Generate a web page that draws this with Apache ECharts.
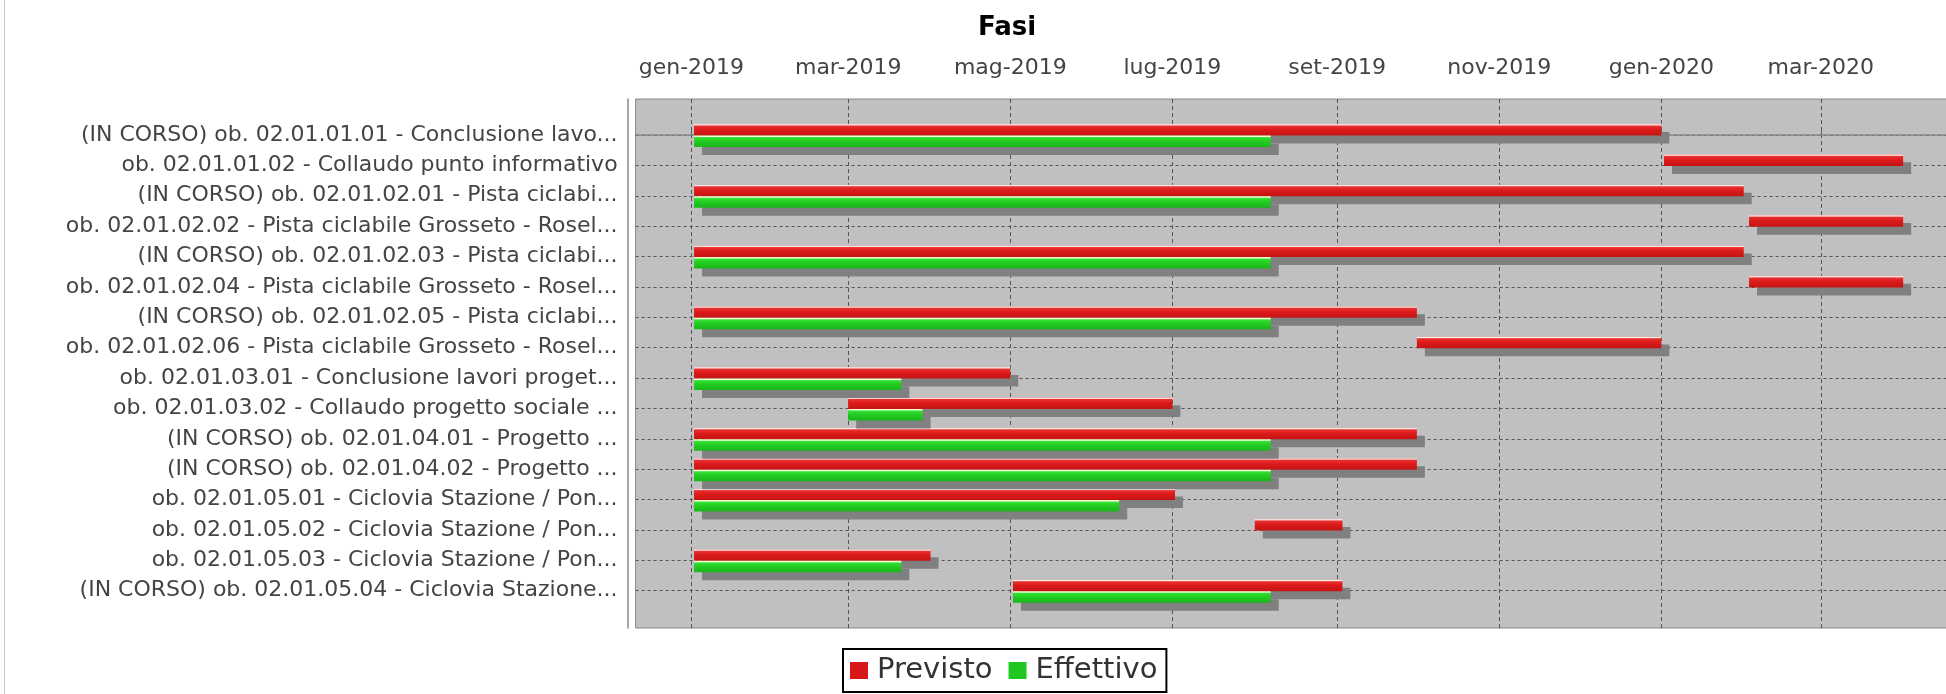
<!DOCTYPE html>
<html>
<head>
<meta charset="utf-8">
<title>Fasi</title>
<script src="https://cdn.jsdelivr.net/npm/echarts@6/dist/echarts.min.js"></script>
<style>
html, body { margin: 0; padding: 0; background: #fff; }
#main { width: 1946px; height: 694px; }
#frame { position: absolute; left: 4px; top: 0; width: 1px; height: 694px; background: #c8c8c8; z-index: 10; }
</style>
</head>
<body>
<div id="frame"></div>
<div id="main"></div>
<script>
// fasi (categorie asse y)
var categories = [
    '(IN CORSO) ob. 02.01.01.01 - Conclusione lavo...',
    'ob. 02.01.01.02 - Collaudo punto informativo',
    '(IN CORSO) ob. 02.01.02.01 - Pista ciclabi...',
    'ob. 02.01.02.02 - Pista ciclabile Grosseto - Rosel...',
    '(IN CORSO) ob. 02.01.02.03 - Pista ciclabi...',
    'ob. 02.01.02.04 - Pista ciclabile Grosseto - Rosel...',
    '(IN CORSO) ob. 02.01.02.05 - Pista ciclabi...',
    'ob. 02.01.02.06 - Pista ciclabile Grosseto - Rosel...',
    'ob. 02.01.03.01 - Conclusione lavori proget...',
    'ob. 02.01.03.02 - Collaudo progetto sociale ...',
    '(IN CORSO) ob. 02.01.04.01 - Progetto ...',
    '(IN CORSO) ob. 02.01.04.02 - Progetto ...',
    'ob. 02.01.05.01 - Ciclovia Stazione / Pon...',
    'ob. 02.01.05.02 - Ciclovia Stazione / Pon...',
    'ob. 02.01.05.03 - Ciclovia Stazione / Pon...',
    '(IN CORSO) ob. 02.01.05.04 - Ciclovia Stazione...'
];

// previsto
var previstoStart = ['2019-01-02', '2020-01-02', '2019-01-02', '2020-02-03', '2019-01-02', '2020-02-03', '2019-01-02', '2019-10-01',
                     '2019-01-02', '2019-03-01', '2019-01-02', '2019-01-02', '2019-01-02', '2019-08-01', '2019-01-02', '2019-05-02'];
var previstoEnd   = ['2020-01-01', '2020-04-01', '2020-02-01', '2020-04-01', '2020-02-01', '2020-04-01', '2019-10-01', '2020-01-01',
                     '2019-05-01', '2019-07-01', '2019-10-01', '2019-10-01', '2019-07-02', '2019-09-03', '2019-04-01', '2019-09-03'];

// effettivo
var effettivoStart = ['2019-01-02', null, '2019-01-02', null, '2019-01-02', null, '2019-01-02', null,
                      '2019-01-02', '2019-03-01', '2019-01-02', '2019-01-02', '2019-01-02', null, '2019-01-02', '2019-05-02'];
var effettivoEnd   = ['2019-08-07', null, '2019-08-07', null, '2019-08-07', null, '2019-08-07', null,
                      '2019-03-21', '2019-03-29', '2019-08-07', '2019-08-07', '2019-06-11', null, '2019-03-21', '2019-08-07'];

// etichette asse tempo
var tickDates = ['2019-01-01', '2019-03-01', '2019-05-01', '2019-07-01', '2019-09-01', '2019-11-01', '2020-01-01', '2020-03-01'];
var monthNames = ['gen', 'feb', 'mar', 'apr', 'mag', 'giu', 'lug', 'ago', 'set', 'ott', 'nov', 'dic'];
var axisStart = '2018-12-11';
var axisEnd = '2020-04-19';

var FONT = 'DejaVu Sans';

function toTime(s) {
    var p = s.split('-');
    return new Date(+p[0], +p[1] - 1, +p[2]).getTime();
}

var rowValues = [];
for (var r = 0; r < categories.length; r++) rowValues.push(r);
var tickValues = tickDates.map(toTime);

function gradient(stops) {
    return new echarts.graphic.LinearGradient(0, 0, 0, 1, stops.map(function (s) {
        return { offset: s[0], color: s[1] };
    }));
}

var redFill = gradient([[0, '#f0a8a8'], [0.08, '#fff6f2'], [0.18, '#e83030'], [0.5, '#dc1a1a'], [1, '#c41414']]);
var greenFill = gradient([[0, '#eeeaa0'], [0.08, '#fbffe8'], [0.18, '#34e034'], [0.5, '#22cc22'], [1, '#1ab41a']]);

//barra con ombra
function makeSeries(name, color, fill, starts, ends, slot) {
    var data = [];
    for (var i = 0; i < categories.length; i++) {
        if (starts[i]) data.push([i, toTime(starts[i]), toTime(ends[i])]);
    }
    return {
        type: 'custom',
        name: name,
        itemStyle: { color: color },
        encode: { x: [1, 2], y: 0 },
        renderItem: function (params, api) {
            var row = api.value(0);
            var a = api.coord([api.value(1), row]);
            var b = api.coord([api.value(2), row]);
            var unit = Math.abs(api.coord([api.value(1), row + 1])[1] - a[1]);
            var h = unit * 0.38;
            var top = slot === 0 ? a[1] - h + 0.5 : a[1] + 0.5;
            var w = b[0] - a[0];
            return {
                type: 'group',
                children: [
                    { type: 'rect', shape: { x: a[0] + 8, y: top + 8, width: w, height: h }, style: { fill: '#808080' } },
                    { type: 'rect', shape: { x: a[0], y: top, width: w, height: h }, style: { fill: fill } }
                ]
            };
        },
        data: data
    };
}

var option = {
    backgroundColor: '#fff',
    animation: false,
    title: {
        text: 'Fasi',
        left: 973,
        top: 10,
        textStyle: { fontFamily: FONT, fontWeight: 'bold', fontSize: 26, color: '#000' }
    },
    legend: {
        left: 843,
        top: 649,
        itemWidth: 18,
        itemHeight: 17,
        itemGap: 16,
        icon: 'rect',
        padding: [7, 9, 7, 7],
        borderColor: '#000',
        borderWidth: 2,
        textStyle: { fontFamily: FONT, fontSize: 29, color: '#333', padding: [0, 0, 0, 4] },
        data: ['Previsto', 'Effettivo']
    },
    grid: {
        left: 635.6,
        right: -5,
        top: 99,
        bottom: 66,
        show: true,
        backgroundColor: '#c0c0c0',
        borderColor: '#8a8a8a',
        borderWidth: 1,
        outerBoundsMode: 'none'
    },
    xAxis: {
        type: 'value',
        position: 'top',
        offset: 10,
        min: toTime(axisStart),
        max: toTime(axisEnd),
        axisLine: { show: true, lineStyle: { color: '#888', width: 1.5 } },
        axisTick: { show: true, length: 4, customValues: tickValues, lineStyle: { color: '#666' } },
        axisLabel: {
            customValues: tickValues,
            fontFamily: FONT, fontSize: 22, color: '#444', margin: 10,
            formatter: function (v) {
                var d = new Date(v);
                return monthNames[d.getMonth()] + '-' + d.getFullYear();
            }
        },
        splitLine: { show: true, lineStyle: { color: '#555', type: [4, 3], width: 1 } }
    },
    yAxis: {
        type: 'value',
        inverse: true,
        min: -1.185,
        max: 16.228,
        offset: 8,
        axisLine: { show: true, lineStyle: { color: '#888', width: 1.5 } },
        axisTick: { show: false, customValues: rowValues },
        axisLabel: {
            customValues: rowValues,
            fontFamily: FONT, fontSize: 22, color: '#444', margin: 10,
            formatter: function (v) { return categories[Math.round(v)]; }
        },
        splitLine: { show: true, lineStyle: { color: '#555', type: [3, 3], width: 1 } }
    },
    series: [
        makeSeries('Previsto', '#d81818', redFill, previstoStart, previstoEnd, 0),
        makeSeries('Effettivo', '#1ec81e', greenFill, effettivoStart, effettivoEnd, 1)
    ]
};

var myChart = echarts.init(document.getElementById('main'));
myChart.setOption(option);
</script>
</body>
</html>
